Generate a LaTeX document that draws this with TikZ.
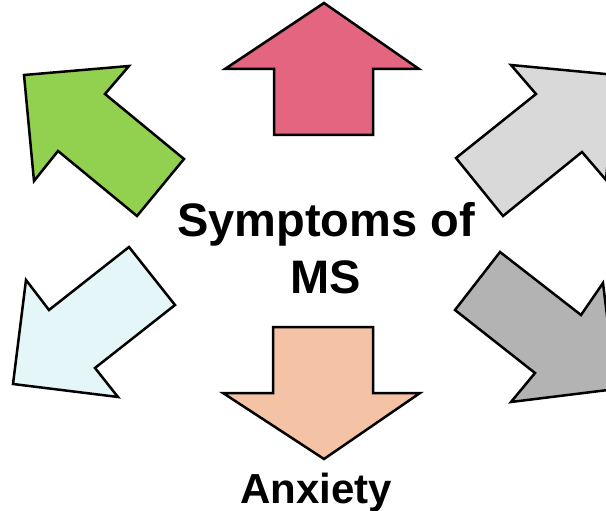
\documentclass[tikz,border=0pt]{standalone}
\usepackage{fontspec}
\setmainfont{Liberation Sans}
\definecolor{cpink}{HTML}{E46580}
\definecolor{cgreen}{HTML}{92D050}
\definecolor{clgray}{HTML}{D9D9D9}
\definecolor{ccyan}{HTML}{E4F6F7}
\definecolor{cdgray}{HTML}{B3B3B3}
\definecolor{cpeach}{HTML}{F4C2A5}
\begin{document}
\begin{tikzpicture}[x=1pt,y=-1pt,
  arrowshape/.style={draw=black, line width=2.5pt, line join=miter},
  bigtext/.style={font=\bfseries\fontsize{47}{56}\selectfont, inner sep=0pt, anchor=base},
  labeltext/.style={font=\bfseries\fontsize{42}{50}\selectfont, inner sep=0pt, anchor=base}]
\useasboundingbox (0,0) rectangle (606,511);
\clip (0,0) rectangle (606,511);
% top (pink)
\draw[arrowshape, fill=cpink] (324,3) -- (419,69) -- (373,69) -- (373,135) -- (274,135) -- (274,69) -- (225,69) -- cycle;
% top-left (green)
\draw[arrowshape, fill=cgreen] (24,75) -- (129,66) -- (105,94) -- (184,159) -- (137,216) -- (58,151) -- (34,181) -- cycle;
% top-right (light gray)
\draw[arrowshape, fill=clgray] (616,75) -- (511,65) -- (536,94) -- (456,158) -- (503,216) -- (582,152) -- (606,180) -- cycle;
% bottom-left (light cyan)
\draw[arrowshape, fill=ccyan] (129,247) -- (49,310) -- (26,280) -- (13,384) -- (118,397) -- (95,368) -- (175,305) -- cycle;
% bottom-right (dark gray)
\draw[arrowshape, fill=cdgray] (500,252) -- (581,315) -- (603,283) -- (616,389) -- (511,402) -- (535,373) -- (455,310) -- cycle;
% bottom (peach)
\draw[arrowshape, fill=cpeach] (273,327) -- (373,327) -- (373,393) -- (420,393) -- (324,459) -- (223,393) -- (273,393) -- cycle;
% texts
\node[bigtext] (title1) at (326,236) {Symptoms of};
\node[bigtext] (title2) at (326,293) {MS};
\node[labeltext] (anx) at (316,503) {Anxiety};
\end{tikzpicture}
\end{document}
